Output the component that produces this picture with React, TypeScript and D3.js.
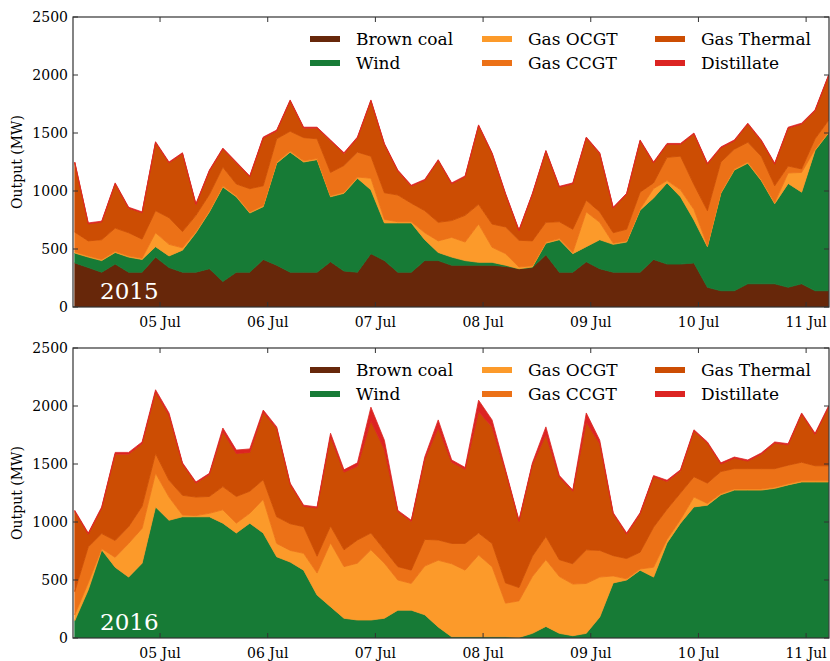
import * as d3 from 'd3';

// hours after 4 Jul 05:00, sampled every 3 h
const hours = d3.range(57).map((i) => i * 3);
const dayTicks = [19, 43, 67, 91, 115, 139, 163];
const dayLabels = ['05 Jul', '06 Jul', '07 Jul', '08 Jul', '09 Jul', '10 Jul', '11 Jul'];
const yTicks = [0, 500, 1000, 1500, 2000, 2500];

const seriesNames = ['Brown coal', 'Wind', 'Gas OCGT', 'Gas CCGT', 'Gas Thermal', 'Distillate'];
const seriesColors = ['#67270a', '#177b36', '#fc9a2a', '#ec7117', '#cc4d03', '#dc2422'];

// 2015
const coal2015 = [380, 340, 300, 370, 300, 300, 430, 340, 300, 300, 330, 220, 300, 300, 410, 360, 300, 300, 300, 390, 310, 300, 460, 400, 300, 300, 400, 400, 360, 360, 360, 360, 350, 330, 340, 450, 300, 300, 390, 330, 300, 300, 300, 410, 370, 370, 380, 170, 140, 140, 200, 200, 200, 170, 200, 140, 140];
const wind2015 = [85, 90, 100, 100, 130, 110, 90, 100, 190, 340, 490, 815, 650, 510, 455, 880, 1035, 950, 970, 560, 670, 810, 550, 325, 425, 425, 180, 70, 70, 40, 25, 25, 10, 0, 5, 100, 280, 160, 130, 250, 240, 260, 535, 530, 700, 580, 370, 350, 840, 1040, 1040, 890, 690, 895, 790, 1210, 1360];
const ocgt2015 = [10, 10, 10, 10, 10, 10, 120, 100, 20, 10, 10, 10, 10, 10, 10, 10, 10, 10, 10, 10, 10, 10, 100, 30, 10, 10, 60, 100, 170, 160, 330, 130, 100, 15, 10, 10, 10, 10, 300, 150, 10, 10, 10, 80, 20, 60, 90, 10, 10, 10, 10, 10, 10, 90, 170, 10, 10];
const ccgt2015 = [170, 130, 170, 200, 200, 165, 190, 230, 140, 140, 140, 160, 100, 200, 170, 200, 170, 200, 170, 200, 230, 215, 190, 230, 230, 160, 190, 160, 145, 230, 170, 200, 230, 230, 215, 170, 145, 200, 100, 90, 90, 100, 145, 50, 200, 290, 215, 300, 260, 170, 170, 200, 145, 60, 30, 90, 100];
const thermal2015 = [597, 147, 152, 382, 212, 227, 587, 472, 672, 92, 202, 157, 182, 102, 412, 67, 262, 82, 92, 272, 102, 122, 477, 417, 207, 147, 262, 532, 317, 332, 677, 607, 282, 82, 402, 612, 297, 392, 537, 502, 212, 302, 442, 172, 112, 102, 437, 402, 122, 72, 157, 132, 187, 327, 387, 242, 382];
const dist2015 = hours.map(() => 8);

// 2016
const coal2016 = hours.map(() => 0);
const wind2016 = [150, 415, 760, 610, 525, 645, 1130, 1015, 1045, 1045, 1045, 990, 905, 990, 905, 700, 655, 585, 370, 270, 170, 155, 155, 170, 240, 240, 200, 95, 10, 10, 10, 10, 10, 5, 40, 100, 40, 20, 40, 180, 475, 500, 585, 525, 820, 990, 1130, 1145, 1235, 1275, 1275, 1275, 1290, 1320, 1345, 1345, 1345];
const ocgt2016 = [50, 60, 10, 85, 290, 300, 290, 200, 15, 10, 30, 115, 85, 85, 290, 115, 100, 145, 190, 550, 445, 490, 605, 475, 260, 230, 420, 575, 630, 575, 705, 605, 290, 315, 490, 575, 490, 445, 430, 345, 60, 10, 10, 85, 30, 30, 85, 15, 10, 10, 10, 10, 10, 10, 10, 10, 10];
const ccgt2016 = [200, 310, 130, 145, 145, 190, 170, 145, 170, 160, 145, 200, 230, 190, 170, 230, 230, 230, 145, 145, 145, 200, 145, 115, 115, 115, 230, 175, 175, 230, 190, 200, 175, 115, 175, 200, 145, 175, 290, 230, 175, 175, 145, 345, 260, 230, 175, 175, 190, 175, 175, 175, 160, 160, 160, 130, 130];
const thermal2016 = [690, 110, 220, 745, 625, 540, 530, 560, 270, 120, 190, 475, 370, 335, 580, 760, 340, 175, 415, 770, 670, 635, 965, 865, 475, 420, 690, 965, 700, 640, 1045, 1005, 960, 570, 790, 875, 710, 625, 1100, 920, 360, 210, 330, 435, 240, 190, 395, 345, 65, 90, 65, 125, 220, 175, 415, 270, 505];
const dist2016 = [10, 10, 10, 15, 15, 15, 20, 20, 10, 10, 10, 30, 30, 30, 20, 15, 10, 10, 10, 30, 20, 30, 120, 80, 10, 10, 20, 70, 20, 15, 100, 60, 15, 10, 15, 70, 15, 10, 80, 30, 10, 10, 10, 10, 10, 10, 10, 10, 10, 10, 10, 10, 10, 10, 10, 10, 10];

const W = 830;
const H = 661;
const left = 73;
const right = 829;
const font = 'DejaVu Serif, serif';

function Panel({ top, label, series }: { top: number; label: string; series: number[][] }) {
  const bottom = top + 290;
  const x = d3.scaleLinear().domain([-0.4, 168.1]).range([left, right]);
  const y = d3.scaleLinear().domain([0, 2500]).range([bottom, top]);
  const rows = hours.map((h, i) => {
    const r: Record<string, number> = { h };
    seriesNames.forEach((n, k) => (r[n] = series[k][i]));
    return r;
  });
  const stacked = d3.stack<Record<string, number>>().keys(seriesNames)(rows);
  const area = d3
    .area<d3.SeriesPoint<Record<string, number>>>()
    .x((d) => x(d.data.h))
    .y0((d) => y(d[0]))
    .y1((d) => y(d[1]));
  const clipId = 'clip' + label;
  return (
    <g>
      <defs>
        <clipPath id={clipId}>
          <rect x={left} y={top} width={right - left} height={bottom - top} />
        </clipPath>
      </defs>
      <g clipPath={`url(#${clipId})`}>
        {stacked.map((s, k) => (
          <path key={k} d={area(s) ?? ''} fill={seriesColors[k]} stroke={seriesColors[k]} strokeWidth={0.8} />
        ))}
      </g>
      <text x={100} y={bottom - 8} fill="white" fontSize={23} fontFamily={font}>
        {label}
      </text>
      <rect x={left} y={top} width={right - left} height={bottom - top} fill="none" stroke="#333" strokeWidth={1.2} />
      {yTicks.map((t) => (
        <g key={t}>
          <line x1={left} x2={left + 5} y1={y(t)} y2={y(t)} stroke="#333" />
          <line x1={right - 5} x2={right} y1={y(t)} y2={y(t)} stroke="#333" />
          <text x={left - 5} y={y(t) + 5} textAnchor="end" fontSize={14} fontFamily={font}>
            {t}
          </text>
        </g>
      ))}
      {dayTicks.map((t, i) => (
        <g key={t}>
          <line x1={x(t)} x2={x(t)} y1={bottom} y2={bottom - 5} stroke="#333" />
          <line x1={x(t)} x2={x(t)} y1={top} y2={top + 5} stroke="#333" />
          <text x={x(t)} y={bottom + 20} textAnchor="middle" fontSize={14} fontFamily={font}>
            {dayLabels[i]}
          </text>
        </g>
      ))}
      <text
        transform={`translate(22,${(top + bottom) / 2}) rotate(-90)`}
        textAnchor="middle"
        fontSize={14}
        fontFamily={font}
      >
        Output (MW)
      </text>
      {seriesNames.map((n, k) => {
        const col = Math.floor(k / 2);
        const row = k % 2;
        const lx = [310, 482, 655][col];
        const ly = top + 22 + row * 24;
        return (
          <g key={n}>
            <line x1={lx} x2={lx + 30} y1={ly} y2={ly} stroke={seriesColors[k]} strokeWidth={6} />
            <text x={lx + 46} y={ly + 6} fontSize={17} fontFamily={font}>
              {n}
            </text>
          </g>
        );
      })}
    </g>
  );
}

export default function App() {
  return (
    <svg width={W} height={H} style={{ position: 'absolute', left: 0, top: 0, background: 'white' }}>
      <Panel top={17} label="2015" series={[coal2015, wind2015, ocgt2015, ccgt2015, thermal2015, dist2015]} />
      <Panel top={348} label="2016" series={[coal2016, wind2016, ocgt2016, ccgt2016, thermal2016, dist2016]} />
    </svg>
  );
}
